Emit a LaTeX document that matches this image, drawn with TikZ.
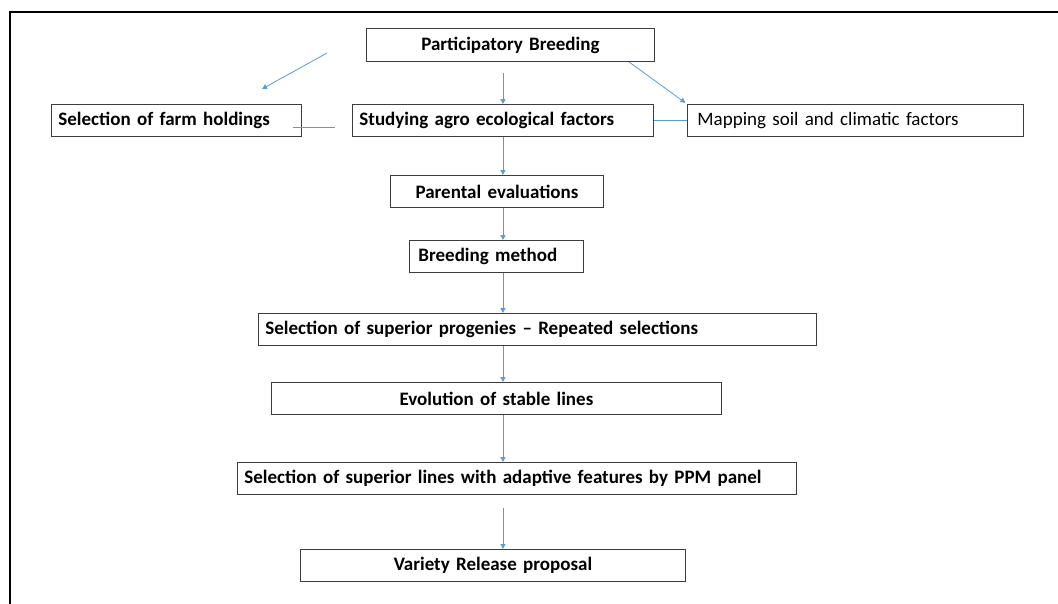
\documentclass[tikz,border=0pt]{standalone}
\usepackage{fontspec}
\setmainfont{Carlito}
\usepackage{tikz}
\usetikzlibrary{arrows.meta, positioning, calc}
\definecolor{linkblue}{RGB}{91, 155, 213}
\definecolor{boxgrey}{RGB}{60, 60, 60}

\begin{document}
\begin{tikzpicture}[x=1pt, y=-1pt,
  stage/.style={draw=boxgrey, line width=0.9pt, anchor=north west, minimum height=32pt,
    inner xsep=7pt, inner ysep=0pt, font=\bfseries\fontsize{19}{22}\selectfont},
  link/.style={linkblue, line width=0.8pt},
  flow/.style={link, -{Triangle[length=5pt, width=5pt]}}]
  \useasboundingbox (0, 0) rectangle (1058, 603);
  % frame
  \draw[line width=1.6pt] (10, 620) -- (10, 12) -- (1070, 12);
  % boxes
  \node[stage, text width=274pt, align=center, minimum height=33pt] (pb) at (366, 28) {Participatory Breeding};
  \node[stage, text width=236pt, align=left] (farm) at (51, 104) {Selection of farm holdings};
  \node[stage, text width=287pt, align=left] (study) at (352, 104) {Studying agro ecological factors};
  \node[stage, text width=316pt, align=left, font=\fontsize{19}{22}\selectfont, inner xsep=10pt] (map) at (687, 104) {Mapping soil and climatic factors};
  \node[stage, text width=199pt, align=center] (parent) at (390, 175) {Parental evaluations};
  \node[stage, text width=156pt, align=left, inner xsep=9pt] (method) at (409, 240) {Breeding method};
  \node[stage, text width=544pt, align=left] (prog) at (258, 313) {Selection of superior progenies -- Repeated selections};
  \node[stage, text width=436pt, align=center] (stable) at (271, 382) {Evolution of stable lines};
  \node[stage, text width=545pt, align=left] (suplines) at (237, 462) {Selection of superior lines with adaptive features by PPM panel};
  \node[stage, text width=371pt, align=center] (release) at (300, 549) {Variety Release proposal};
  % loose ends
  \coordinate (fa) at (327, 53);
  \coordinate (fb) at (262, 89);
  \coordinate (fl) at (293, 127);
  \coordinate (fr) at (335, 127);
  % connectors
  \draw[flow] ([yshift=31pt]study.north) -- (study.north);
  \draw[flow, shorten >=2pt] ([xshift=-26pt]pb.south east) -- (map.north west);
  \draw[flow] (fa) -- (fb);
  \draw[link] (fl) -- (fr);
  \draw[link] (study.east) -- (map.west);
  \draw[flow] (study.south) -- (study.south |- parent.north);
  \draw[flow] (parent.south -| study.south) -- (study.south |- method.north);
  \draw[flow] (method.south -| study.south) -- (study.south |- prog.north);
  \draw[flow] (prog.south -| study.south) -- (study.south |- stable.north);
  \draw[flow] (stable.south -| study.south) -- (study.south |- suplines.north);
  \draw[flow] ([yshift=-13pt]suplines.south -| study.south) -- (study.south |- release.north);
\end{tikzpicture}
\end{document}
